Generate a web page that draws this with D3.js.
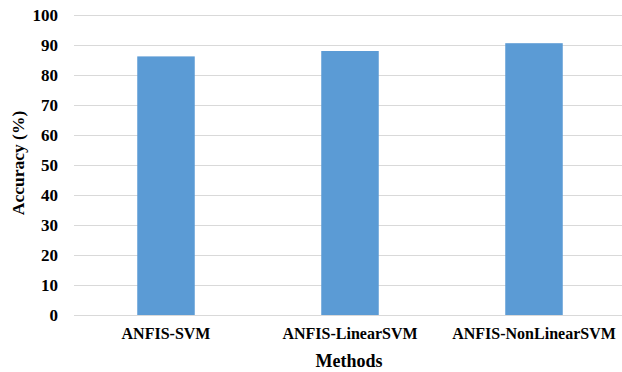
<!DOCTYPE html>
<html>
<head>
<meta charset="utf-8">
<script src="https://cdn.jsdelivr.net/npm/d3@7"></script>
<style>
  html, body { margin: 0; padding: 0; background: #fff; }
  svg { display: block; }
  text { font-family: "Liberation Serif", "Times New Roman", serif; font-weight: bold; fill: #000; }
</style>
</head>
<body>
<svg id="chart" width="622" height="372"></svg>
<script>
// Classification accuracy per method
const methods = ["ANFIS-SVM", "ANFIS-LinearSVM", "ANFIS-NonLinearSVM"];
const accuracy = [86.2, 88.0, 90.6];
const yTicks = [0, 10, 20, 30, 40, 50, 60, 70, 80, 90, 100];

const svg = d3.select("#chart");
const plotLeft = 74, plotRight = 626, plotTop = 15, plotBottom = 315;
const serif = '"Liberation Serif", "Times New Roman", serif';

const x = d3.scaleBand()
  .domain(methods)
  .range([plotLeft, plotRight])
  .paddingInner(0.6875)
  .paddingOuter(0.34375);

const y = d3.scaleLinear().domain([0, 100]).range([plotBottom, plotTop]);

// Horizontal gridlines
svg.append("g")
  .selectAll("line")
  .data(yTicks)
  .join("line")
  .attr("x1", plotLeft).attr("x2", plotRight)
  .attr("y1", d => y(d) + 0.5).attr("y2", d => y(d) + 0.5)
  .attr("stroke", "#d9d9d9")
  .attr("stroke-width", 1);

// Bars
svg.append("g")
  .selectAll("rect")
  .data(methods.map((m, i) => ({ m, v: accuracy[i] })))
  .join("rect")
  .attr("x", d => x(d.m))
  .attr("width", x.bandwidth())
  .attr("y", d => y(d.v))
  .attr("height", d => y(0) - y(d.v))
  .attr("fill", "#5b9bd5");

// Y axis labels
const yAxis = svg.append("g")
  .attr("transform", `translate(${plotLeft},0)`)
  .call(d3.axisLeft(y).tickValues(yTicks).tickSize(0).tickPadding(16));
yAxis.select(".domain").remove();
yAxis.selectAll("text")
  .attr("font-size", 17)
  .style("font-family", serif)
  .style("font-weight", "bold");

// X axis labels
const xAxis = svg.append("g")
  .attr("transform", `translate(0,${plotBottom})`)
  .call(d3.axisBottom(x).tickSize(0).tickPadding(12.5));
xAxis.select(".domain").attr("stroke", "#d9d9d9");
xAxis.selectAll("text")
  .attr("font-size", 16)
  .style("font-family", serif)
  .style("font-weight", "bold");

// Axis titles
svg.append("text")
  .attr("x", 349).attr("y", 367)
  .attr("text-anchor", "middle")
  .attr("font-size", 18)
  .text("Methods");

svg.append("text")
  .attr("transform", "translate(24,163) rotate(-90)")
  .attr("text-anchor", "middle")
  .attr("font-size", 17.5)
  .text("Accuracy (%)");
</script>
</body>
</html>
